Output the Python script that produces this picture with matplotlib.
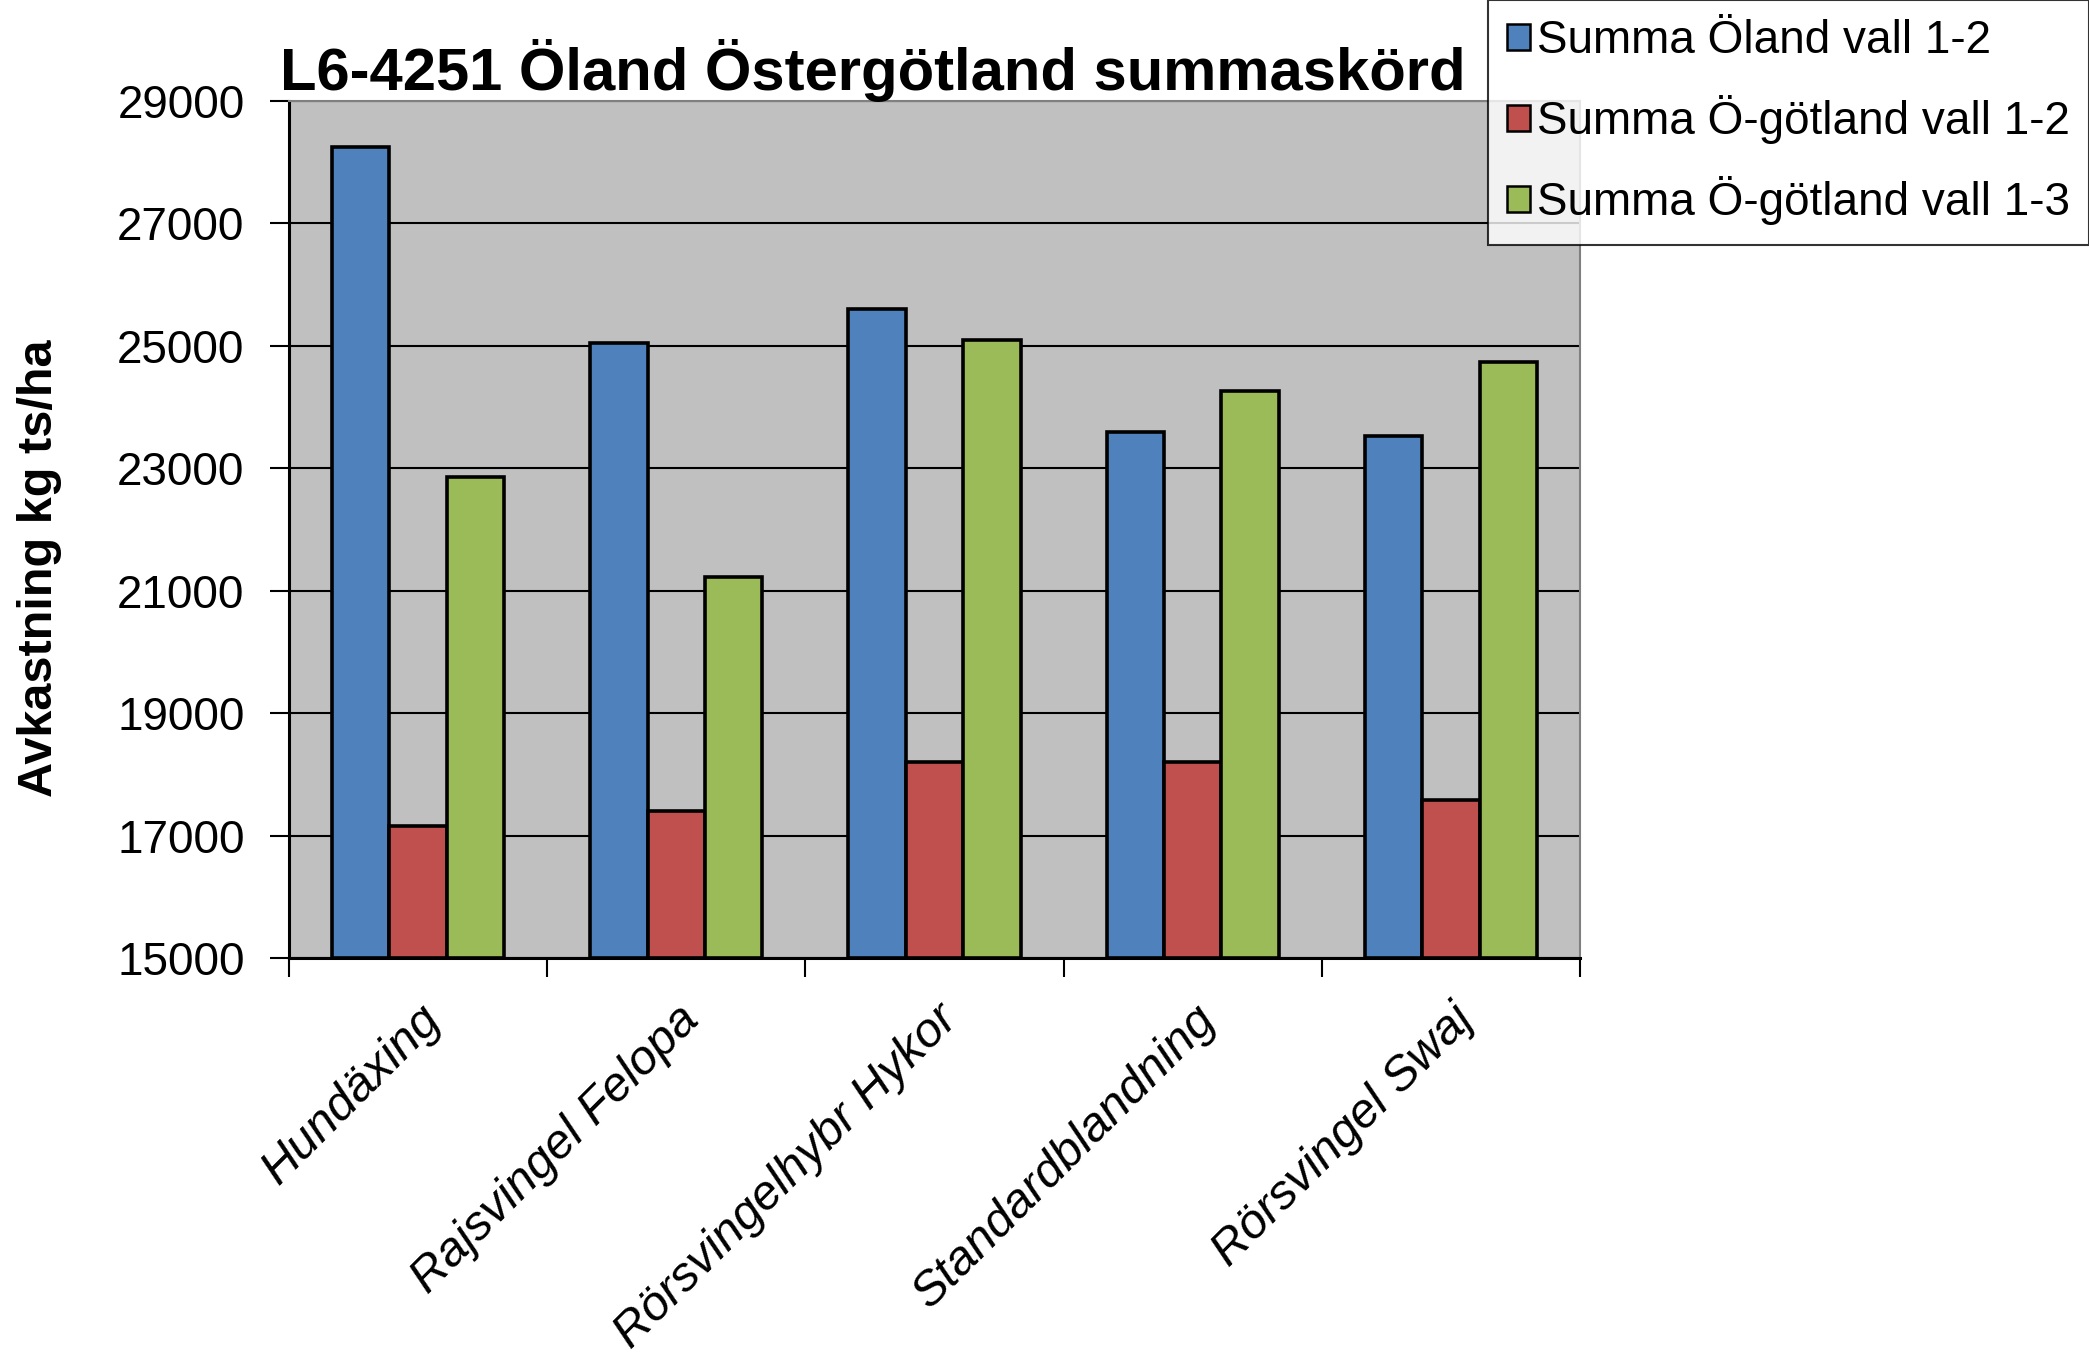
import matplotlib
matplotlib.use("Agg")
import matplotlib.pyplot as plt
from matplotlib.patches import Patch
import numpy as np

categories = ["Hundäxing", "Rajsvingel Felopa", "Rörsvingelhybr Hykor", "Standardblandning", "Rörsvingel Swaj"]
series_names = ["Summa Öland vall 1-2", "Summa Ö-götland vall 1-2", "Summa Ö-götland vall 1-3"]
oland_12 = [28250, 25050, 25600, 23600, 23520]
ogotland_12 = [17150, 17400, 18200, 18200, 17580]
ogotland_13 = [22850, 21230, 25100, 24260, 24730]
yticks = [15000, 17000, 19000, 21000, 23000, 25000, 27000, 29000]
title = "L6-4251 Öland Östergötland summaskörd"
ylabel = "Avkastning kg ts/ha"

colors = ["#4F81BD", "#C0504D", "#9BBB59"]
plt.rcParams['font.family'] = ['Liberation Sans', 'DejaVu Sans']

fig = plt.figure(figsize=(20.89, 13.59), dpi=100)
ax = fig.add_axes([289/2089, 1-958/1359, (1580-289)/2089, (958-101)/1359])
ax.set_facecolor("#C0C0C0")

x = np.arange(len(categories))
w = 2/9
data = [oland_12, ogotland_12, ogotland_13]
for i, (vals, c, name) in enumerate(zip(data, colors, series_names)):
    ax.bar(x + (i-1)*w, np.array(vals) - 15000, bottom=15000, width=w, color=c,
           edgecolor="black", linewidth=2.6, label=name, zorder=3)

ax.set_ylim(15000, 29000)
ax.set_xlim(-0.5, len(categories)-0.5)
ax.set_yticks(yticks)
ax.set_yticklabels([str(v) for v in yticks], fontsize=33)
ax.yaxis.grid(True, color="black", linewidth=1.5, zorder=1)
ax.set_axisbelow(True)

ax.set_xticks(np.arange(-0.5, len(categories)), minor=False)
ax.set_xticklabels([])
ax.set_xticks(x, minor=True)
ax.set_xticklabels(categories, minor=True, rotation=45, ha='right', va='top',
                   rotation_mode='anchor', fontsize=35, style='italic')
ax.tick_params(axis='x', which='major', direction='out', length=14, width=1.5)
ax.tick_params(axis='x', which='minor', length=0, pad=28)
ax.tick_params(axis='y', direction='out', length=14, width=1.5, pad=18)

for s in ['left', 'bottom']:
    ax.spines[s].set_color('black')
    ax.spines[s].set_linewidth(2.2)
for s in ['top', 'right']:
    ax.spines[s].set_color('#808080')
    ax.spines[s].set_linewidth(1.5)

fig.text(280/2089, 1-70/1359, title, fontsize=43, fontweight='bold', ha='left', va='center')
fig.text(40/2089, 1-568/1359, ylabel, fontsize=35, fontweight='bold', rotation=90,
         ha='center', va='center')

handles = [Patch(facecolor=c, edgecolor='black', linewidth=1.8) for c in colors]
leg = fig.legend(handles, series_names, loc='upper right', bbox_to_anchor=(1.0, 1.0),
                 fontsize=33, frameon=True, fancybox=False, edgecolor='black',
                 handlelength=0.5, handleheight=0.5, handletextpad=0.15,
                 labelspacing=0.7, borderpad=0.42, borderaxespad=0.0)
leg.get_frame().set_linewidth(1.5)

fig.savefig("out.png", dpi=100, facecolor='white')
